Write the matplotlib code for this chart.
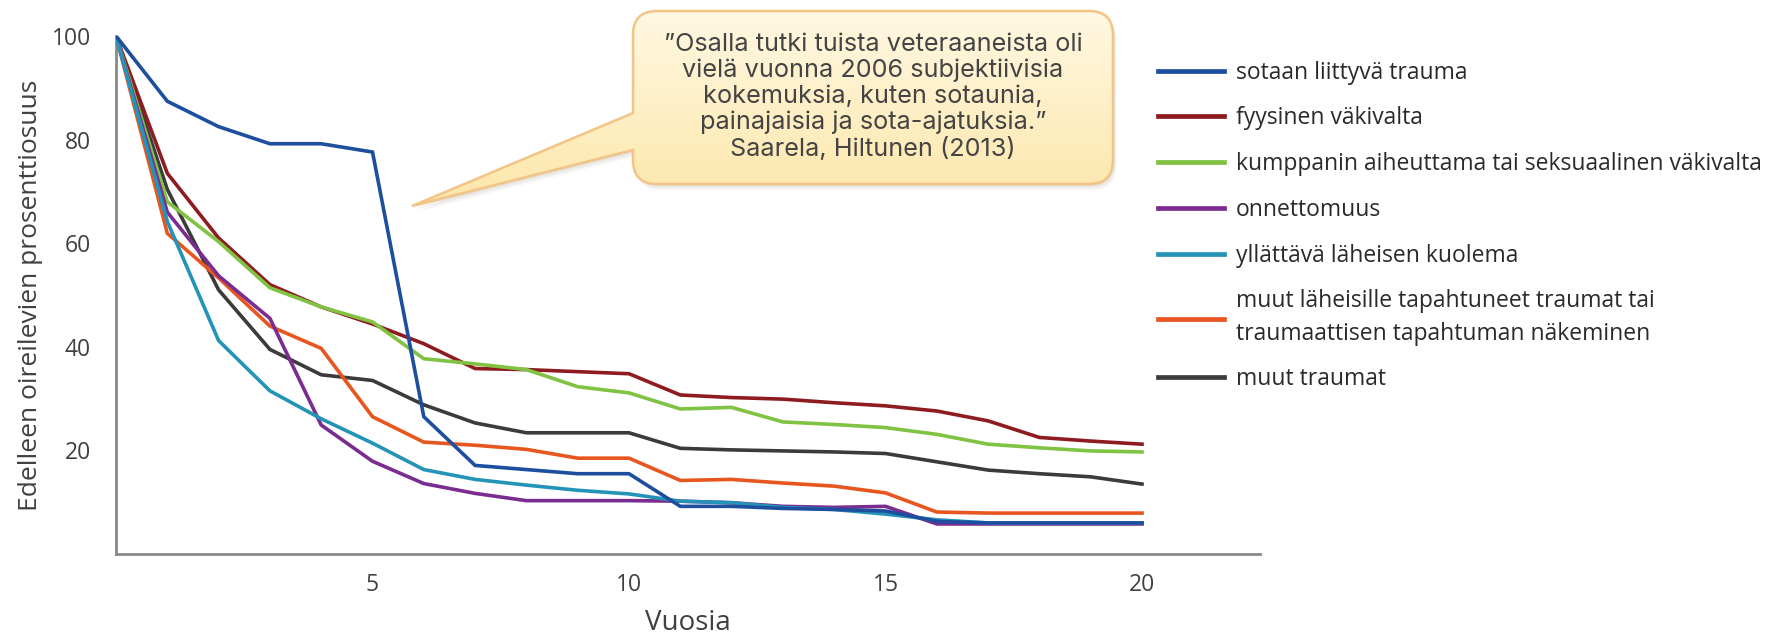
import numpy as np
import matplotlib
matplotlib.use("Agg")
import matplotlib.pyplot as plt
from matplotlib.path import Path
from matplotlib.patches import PathPatch

# vuodet 0..20
vuodet = list(range(21))

sotaan = [100, 87.4, 82.5, 79.2, 79.2, 77.6, 26.5, 17.1, 16.3, 15.5, 15.5,
          9.2, 9.2, 8.8, 8.6, 8.3, 6.3, 6.0, 6.0, 6.0, 6.0]
fyysinen = [100, 73.5, 61.0, 52.0, 47.7, 44.4, 40.6, 35.8, 35.6, 35.2, 34.8,
            30.7, 30.2, 29.9, 29.2, 28.6, 27.6, 25.7, 22.5, 21.8, 21.2]
kumppani = [100, 68.0, 60.3, 51.4, 47.7, 44.8, 37.7, 36.7, 35.6, 32.3, 31.1,
            28.0, 28.3, 25.5, 25.0, 24.4, 23.1, 21.2, 20.5, 19.9, 19.7]
onnettomuus = [100, 66.0, 53.7, 45.5, 24.9, 17.9, 13.6, 11.7, 10.3, 10.3, 10.3,
               10.2, 9.9, 9.2, 9.0, 9.2, 5.8, 5.8, 5.8, 5.8, 5.8]
kuolema = [100, 64.2, 41.2, 31.5, 26.1, 21.4, 16.3, 14.4, 13.3, 12.3, 11.6,
           10.2, 9.9, 9.0, 8.6, 7.7, 6.6, 6.0, 6.0, 6.0, 6.0]
laheiset = [100, 61.9, 53.3, 44.0, 39.7, 26.5, 21.6, 21.0, 20.2, 18.5, 18.5,
            14.2, 14.4, 13.7, 13.1, 11.8, 8.1, 7.9, 7.9, 7.9, 7.9]
muut = [100, 70.4, 51.0, 39.5, 34.6, 33.5, 28.8, 25.3, 23.4, 23.4, 23.4,
        20.4, 20.1, 19.9, 19.7, 19.4, 17.8, 16.2, 15.5, 14.9, 13.5]

nimet = ["sotaan liittyvä trauma",
         "fyysinen väkivalta",
         "kumppanin aiheuttama tai seksuaalinen väkivalta",
         "onnettomuus",
         "yllättävä läheisen kuolema",
         "muut läheisille tapahtuneet traumat tai\ntraumaattisen tapahtuman näkeminen",
         "muut traumat"]
sarjat = [sotaan, fyysinen, kumppani, onnettomuus, kuolema, laheiset, muut]
varit = ["#1d4f9e", "#8e1b1f", "#80c241", "#7a2c90", "#2394b8", "#e8561f", "#3b3b3b"]
zt = [9, 4, 5, 6, 7, 3, 2]

yticks = [20, 40, 60, 80, 100]
xticks = [5, 10, 15, 20]

W, H = 1772, 639
fig = plt.figure(figsize=(W / 100, H / 100), dpi=100)

def fx(px):
    return px / W

def fy(py):
    return 1 - py / H

ax = fig.add_axes([fx(116), fy(554), fx(1260) - fx(116), fy(36) - fy(554)])
lines = []
for s, n, c, z in zip(sarjat, nimet, varit, zt):
    l, = ax.plot(vuodet, s, color=c, lw=2.6, label=n, zorder=z, solid_joinstyle="miter")
    lines.append(l)

ax.set_xlim(0, 22.3)
ax.set_ylim(0, 100)
ax.set_yticks(yticks)
ax.set_xticks(xticks)
for sp in ["top", "right"]:
    ax.spines[sp].set_visible(False)
for sp in ["left", "bottom"]:
    ax.spines[sp].set_color("#8a8a8a")
    ax.spines[sp].set_linewidth(2)
ax.tick_params(length=0, labelsize=16.5, colors="#404040")
ax.tick_params(axis="y", pad=18)
ax.tick_params(axis="x", pad=14)
for t in ax.get_xticklabels() + ax.get_yticklabels():
    t.set_fontfamily("Open Sans")
    t.set_fontweight(500)
ax.set_ylabel("Edelleen oireilevien prosenttiosuus", fontsize=19, color="#404040",
              family="Open Sans", fontweight=500, labelpad=6)
ax.set_xlabel("Vuosia", fontsize=20, color="#404040", family="Open Sans",
              fontweight=500, labelpad=8)

leg = fig.legend(handles=lines, loc="upper left", bbox_to_anchor=(fx(1137), fy(40)),
                 frameon=False, handlelength=2.9, handletextpad=0.5, labelspacing=0.95,
                 prop={"family": "Open Sans", "size": 16.5, "weight": 500})
for t in leg.get_texts():
    t.set_color("#2a2a2a")
    t.set_linespacing(1.45)
for h in leg.legend_handles:
    h.set_linewidth(3.4)

# puhekupla
ov = fig.add_axes([0, 0, 1, 1], facecolor="none")
ov.set_xlim(0, W)
ov.set_ylim(H, 0)
ov.axis("off")

L, R, T, B, r = 633, 1113, 11, 184, 24
verts = [(L, 113), (412, 206), (L, 150), (L, B - r), (L, B), (L + r, B),
         (R - r, B), (R, B), (R, B - r), (R, T + r), (R, T), (R - r, T),
         (L + r, T), (L, T), (L, T + r), (L, 113)]
codes = [Path.MOVETO, Path.LINETO, Path.LINETO, Path.LINETO, Path.CURVE3, Path.CURVE3,
         Path.LINETO, Path.CURVE3, Path.CURVE3, Path.LINETO, Path.CURVE3, Path.CURVE3,
         Path.LINETO, Path.CURVE3, Path.CURVE3, Path.CLOSEPOLY]
kupla = Path(verts, codes)

for k, a in [(6, 0.06), (4, 0.08), (2, 0.1)]:
    varjo = Path([(x + k * 0.6, y + k) for x, y in verts], codes)
    ov.add_patch(PathPatch(varjo, facecolor="#7a6a50", edgecolor="none", alpha=a))

grad = np.linspace(0, 1, 256).reshape(-1, 1)
cmap = matplotlib.colors.LinearSegmentedColormap.from_list("kupla", ["#fff8e3", "#fde6a8"])
im = ov.imshow(grad, cmap=cmap, extent=[405, R + 2, 210, T - 2], aspect="auto", zorder=2)
patch = PathPatch(kupla, facecolor="none", edgecolor="#f2c486", lw=1.8, zorder=3)
ov.add_patch(patch)
im.set_clip_path(patch)

ov.text(873, 97, "”Osalla tutki tuista veteraaneista oli\nvielä vuonna 2006 subjektiivisia\n"
        "kokemuksia, kuten sotaunia,\npainajaisia ja sota-ajatuksia.”\nSaarela, Hiltunen (2013)",
        ha="center", va="center", fontsize=18.2, color="#444444", family="Inter",
        linespacing=1.15, zorder=4)

fig.savefig("out.png", dpi=100)
